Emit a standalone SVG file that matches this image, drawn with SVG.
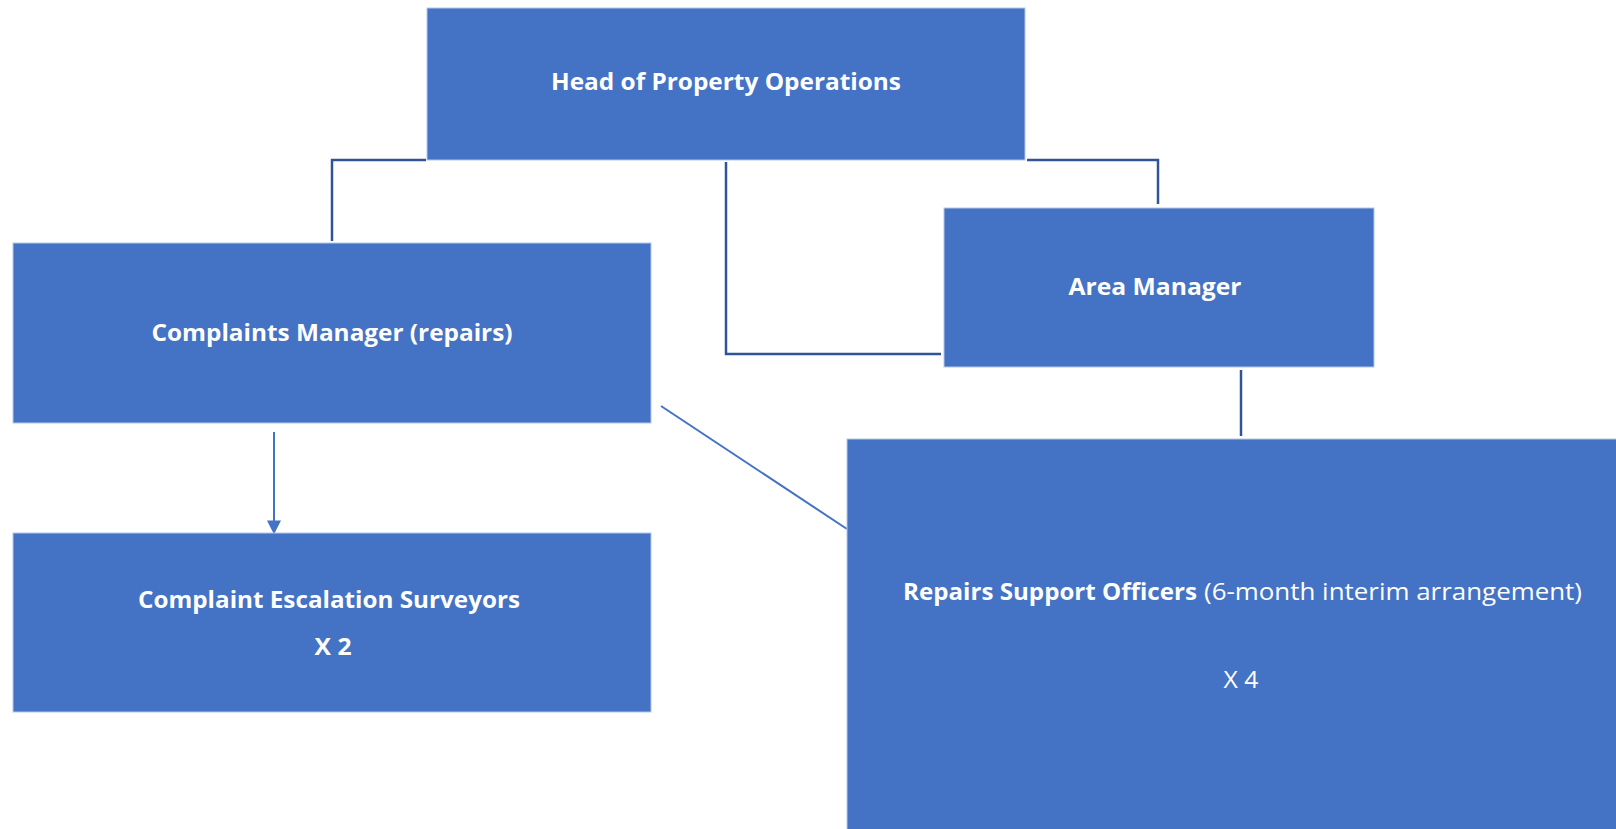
<svg xmlns="http://www.w3.org/2000/svg" width="1616" height="829" viewBox="0 0 1616 829">
<style>
.box{fill:#4472C4;stroke:#B4C7E7;stroke-width:1}
.t{font-family:"Open Sans","Liberation Sans",sans-serif;font-size:24px;fill:#FFFFFF;text-anchor:middle}
.b{font-weight:bold}
.elbow{fill:none;stroke:#2F5597;stroke-width:2.5}
.line{fill:none;stroke:#4472C4;stroke-width:2}
</style>
<defs>
<marker id="arr" viewBox="0 0 10 10" refX="9" refY="5" markerWidth="7" markerHeight="7" orient="auto">
<path d="M0,0 L10,5 L0,10 z" fill="#4472C4"/>
</marker>
</defs>
<rect width="1616" height="829" fill="#FFFFFF"/>
<g id="connectors">
<path class="elbow" d="M426,160 H332 V241"/>
<path class="elbow" d="M726,162 V354 H941"/>
<path class="elbow" d="M1027,160 H1158 V204"/>
<path class="elbow" d="M1241,370 V436"/>
<path class="line" d="M661,406 L847,529"/>
<path class="line" d="M274,432 V533" marker-end="url(#arr)"/>
</g>
<g id="head">
<rect class="box" x="427" y="8" width="598" height="152"/>
<text class="t b" x="726" y="90" textLength="350" lengthAdjust="spacingAndGlyphs">Head of Property Operations</text>
</g>
<g id="complaints-manager">
<rect class="box" x="13" y="243" width="638" height="180"/>
<text class="t b" x="332" y="341" textLength="361" lengthAdjust="spacingAndGlyphs">Complaints Manager (repairs)</text>
</g>
<g id="area-manager">
<rect class="box" x="944" y="208" width="430" height="159"/>
<text class="t b" x="1155" y="295" textLength="173" lengthAdjust="spacingAndGlyphs">Area Manager</text>
</g>
<g id="escalation-surveyors">
<rect class="box" x="13" y="533" width="638" height="179"/>
<text class="t b" x="329" y="608" textLength="382" lengthAdjust="spacingAndGlyphs">Complaint Escalation Surveyors</text>
<text class="t b" x="333" y="655" textLength="37" lengthAdjust="spacingAndGlyphs">X 2</text>
</g>
<g id="repairs-support">
<rect class="box" x="847" y="439" width="780" height="400"/>
<text class="t b" x="1050" y="600" textLength="294" lengthAdjust="spacingAndGlyphs">Repairs Support Officers</text>
<text class="t" x="1393" y="600" textLength="378" lengthAdjust="spacingAndGlyphs">(6-month interim arrangement)</text>
<text class="t" x="1241" y="688" textLength="35" lengthAdjust="spacingAndGlyphs">X 4</text>
</g>
</svg>
